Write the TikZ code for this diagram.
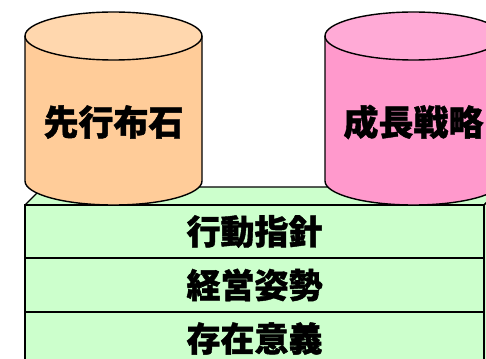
\documentclass[tikz,border=0pt]{standalone}
\usepackage{fontspec}
\newfontfamily\jp{Noto Sans CJK JP Black}[FakeBold=1.2]
\begin{document}
\begin{tikzpicture}[x=1pt,y=-1pt,line width=1.4pt,
  rowbox/.style={draw=black,fill=boxgreen,minimum width=459pt,minimum height=53pt,inner sep=0pt,outer sep=0pt,font=\jp\fontsize{34}{34}\selectfont},
  cyltext/.style={font=\jp\fontsize{35}{35}\selectfont,inner sep=0pt}]
\definecolor{boxgreen}{HTML}{CCFFCC}
\definecolor{peachbody}{HTML}{FFCC99}
\definecolor{peachtop}{HTML}{FFD7AE}
\definecolor{pinkbody}{HTML}{FF99CC}
\definecolor{pinktop}{HTML}{FFAAD6}
\useasboundingbox (0,0) rectangle (486,358);
% box top and side faces
\draw[fill=boxgreen,line join=round] (25,205) -- (43,187) -- (502,187) -- (484,205) -- cycle;
\draw[fill=boxgreen,line join=round] (484,205) -- (502,187) -- (502,347) -- (484,365) -- cycle;
% rows
\node[rowbox] (r1) at (254.5,231.5) {行動指針};
\node[rowbox] (r2) at (254.5,285) {経営姿勢};
\node[rowbox] (r3) at (254.5,338.5) {存在意義};
% cylinder 1
\fill[peachbody] (25,36) -- (25,181) arc[start angle=180,end angle=360,x radius=88.5pt,y radius=24pt] -- (202,36) -- cycle;
\draw (25,36) -- (25,181) arc[start angle=180,end angle=360,x radius=88.5pt,y radius=24pt] -- (202,36);
\draw[fill=peachtop] (113.5,36) ellipse[x radius=88.5pt,y radius=24pt];
\node[cyltext] (c1) at (113.5,122) {先行布石};
% cylinder 2
\fill[pinkbody] (325,36) -- (325,181) arc[start angle=180,end angle=360,x radius=88.5pt,y radius=24pt] -- (502,36) -- cycle;
\draw (325,36) -- (325,181) arc[start angle=180,end angle=360,x radius=88.5pt,y radius=24pt] -- (502,36);
\draw[fill=pinktop] (413.5,36) ellipse[x radius=88.5pt,y radius=24pt];
\node[cyltext] (c2) at (413.5,122) {成長戦略};
\end{tikzpicture}
\end{document}
